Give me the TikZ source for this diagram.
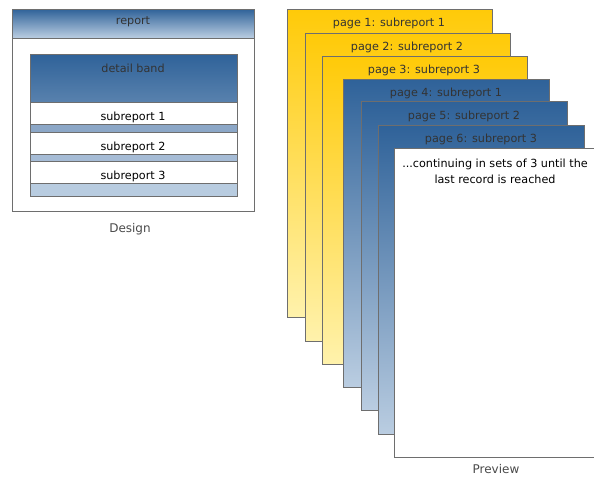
\documentclass[tikz,border=0pt]{standalone}
\usepackage{fontspec}
\setmainfont{DejaVu Sans}
\begin{document}
\begin{tikzpicture}[x=1pt,y=-1pt,
  lbl/.style={font=\fontsize{11.2}{14}\selectfont, text=txtgray, inner sep=0pt},
  captionlbl/.style={font=\fontsize{12}{14}\selectfont, text=captgray, inner sep=0pt},
  edge/.style={draw=bordergray, line width=0.9pt},
  ypage/.style={edge, top color=pageyellowtop, middle color=pageyellowmid, bottom color=pageyellowbot},
  bpage/.style={edge, top color=pagebluetop, bottom color=pagebluebot},
]
\definecolor{bordergray}{HTML}{6E6E6E}
\definecolor{txtgray}{HTML}{333333}
\definecolor{captgray}{HTML}{4A4A4A}
\definecolor{pageyellowtop}{HTML}{FFCA08}
\definecolor{pageyellowmid}{HTML}{FFD850}
\definecolor{pageyellowbot}{HTML}{FFF2AC}
\definecolor{pagebluetop}{HTML}{2F6299}
\definecolor{pagebluebot}{HTML}{BACDE1}
\definecolor{strip1}{HTML}{8CA7C7}
\definecolor{strip2}{HTML}{A6BCD6}
\definecolor{strip3}{HTML}{B8CCE0}
\useasboundingbox (0,0) rectangle (594,477);
\clip (0,0) rectangle (594,477);

% ---------- Design ----------
\path[edge, fill=white] (12,9) rectangle (254,211);
\path[edge, top color=pagebluetop, bottom color=pagebluebot] (12,9) rectangle (254,38);
\node[lbl] (report) at (133,22) {report};
\path[edge, top color=pagebluetop, bottom color=pagebluetop!80!white] (30,54) rectangle (237,102);
\node[lbl] (detail) at (133,68) {detail band};
\path[edge, fill=white] (30,102) rectangle (237,124);
\path[edge, fill=strip1] (30,124) rectangle (237,132);
\path[edge, fill=white] (30,132) rectangle (237,154);
\path[edge, fill=strip2] (30,154) rectangle (237,161);
\path[edge, fill=white] (30,161) rectangle (237,183);
\path[edge, fill=strip3] (30,183) rectangle (237,196);
\node[lbl, text=black] (s1) at (133,117) {subreport 1};
\node[lbl, text=black] (s2) at (133,147) {subreport 2};
\node[lbl, text=black] (s3) at (133,176) {subreport 3};
\node[captionlbl] (design) at (130,229) {Design};

% ---------- Preview ----------
\path[ypage] (287,9) rectangle (492,317);
\node[lbl] (p1) at (389,23) {page 1: subreport 1};
\path[ypage] (305,33) rectangle (510,341);
\node[lbl] (p2) at (407,47) {page 2: subreport 2};
\path[ypage] (322,56) rectangle (527,364);
\node[lbl] (p3) at (424,70) {page 3: subreport 3};
\path[bpage] (343,79) rectangle (549,387);
\node[lbl] (p4) at (446,93) {page 4: subreport 1};
\path[bpage] (361,101) rectangle (567,410);
\node[lbl] (p5) at (464,116) {page 5: subreport 2};
\path[bpage] (378,125) rectangle (584,434);
\node[lbl] (p6) at (481,139) {page 6: subreport 3};
\path[edge, fill=white] (394,148) rectangle (600,457);
\node[lbl, text=black, align=center, font=\fontsize{11.2}{16}\selectfont] (p7) at (495,171) {...continuing in sets of 3 until the\\last record is reached};
\node[captionlbl] (preview) at (496,469) {Preview};
\end{tikzpicture}
\end{document}
